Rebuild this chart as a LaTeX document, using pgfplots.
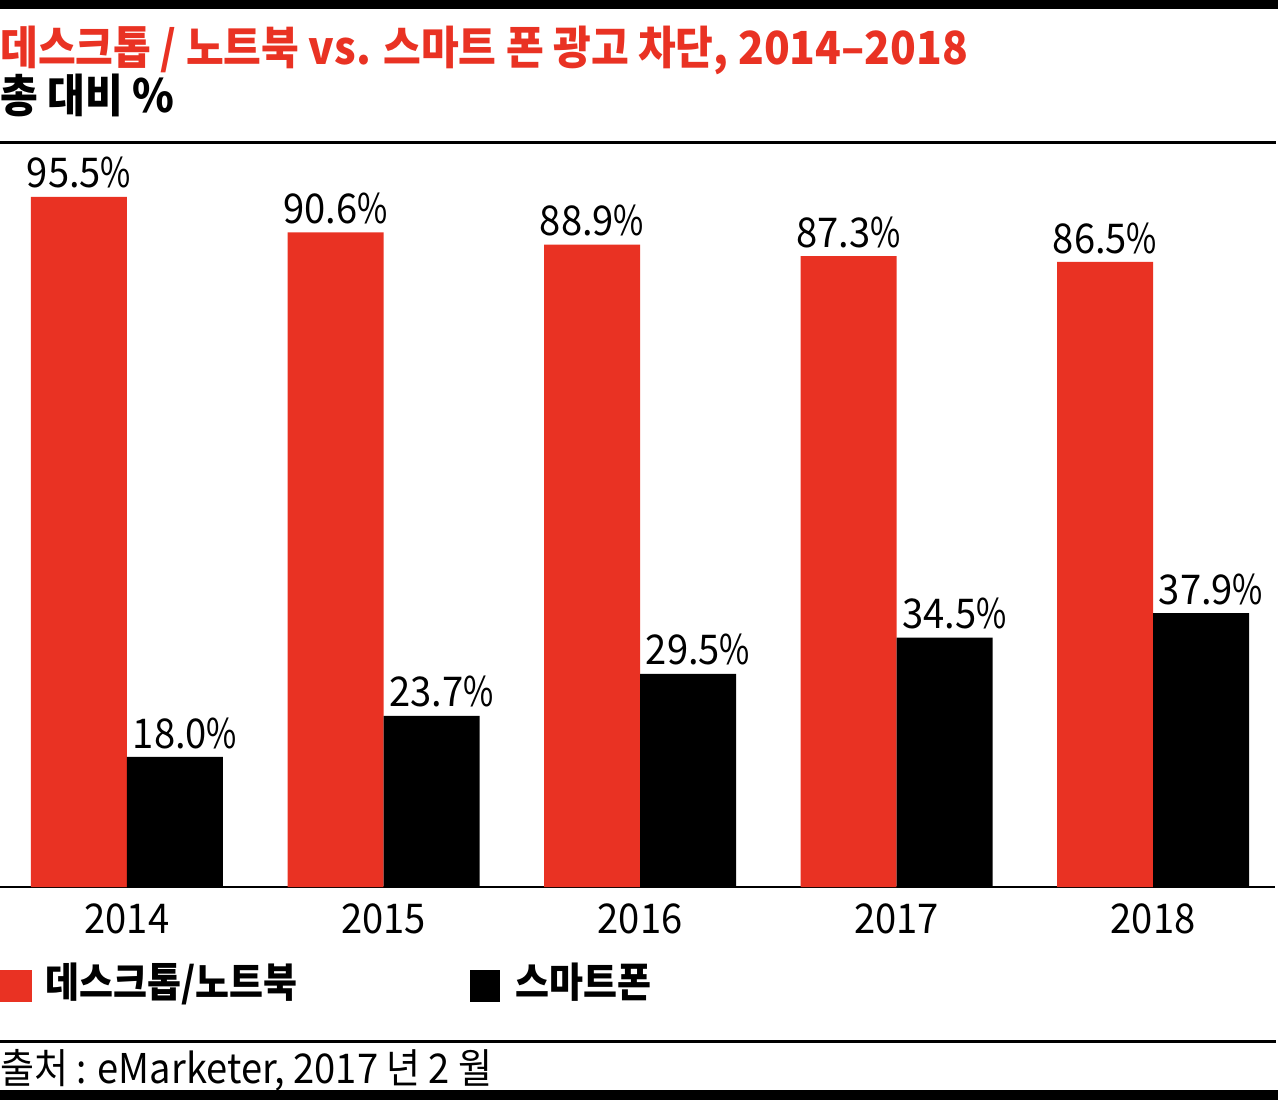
\documentclass[border=0pt]{standalone}
\usepackage{fontspec}
\usepackage{pgfplots}
\pgfplotsset{compat=1.18}
\setmainfont[FakeStretch=0.9]{Noto Sans CJK KR}
\newfontfamily\kr[FakeStretch=0.9]{Noto Sans CJK KR}
\newfontfamily\num[FakeStretch=0.93]{Noto Sans CJK KR}
\newfontfamily\pct[FakeStretch=0.8]{Noto Sans CJK KR}
\definecolor{myred}{HTML}{E93223}
\newcommand\fs{\fontsize{20.5}{24}\selectfont}
\newcommand\ft{\fontsize{22.8}{26}\selectfont}
\begin{document}
\begin{tikzpicture}
\path[use as bounding box] (0,0) rectangle (640pt,-551pt);
% top bar
\fill[black] (0,0) rectangle (639pt,-4.5pt);
% titles
\node[anchor=base west, inner sep=0, text=myred] at (0,-32.5pt)
  {\ft\bfseries\kr 데스크톱 / 노트북 {\num vs.} 스마트 폰 광고 차단{\num , 2014–2018}};
\node[anchor=base west, inner sep=0] at (0,-56.5pt)
  {\ft\bfseries\kr 총 대비 {\num\%}};
\draw[line width=1.5pt] (0,-71.5pt) -- (638pt,-71.5pt);
\begin{axis}[
  at={(0pt,-443.5pt)}, anchor=south west,
  scale only axis, width=637.5pt, height=372.5pt,
  xmin=-0.4951, xmax=4.4756, ymin=0, ymax=103.1,
  axis x line=bottom, hide y axis,
  x axis line style={-, line width=1pt},
  xtick={0,1,2,3,4}, xticklabels={2014,2015,2016,2017,2018},
  major tick length=0pt,
  xticklabel style={font=\fs\num, inner sep=0pt, yshift=-8pt},
  ybar=0pt, bar width=48pt,
  /pgf/number format/assume math mode=true,
  nodes near coords={\pgfmathprintnumber[fixed,fixed zerofill,precision=1]{\pgfplotspointmeta}{\pct\%}},
  every node near coord/.append style={font=\fs\num, inner sep=0pt, yshift=4pt, text=black},
  clip=false,
]
\addplot[fill=myred, draw=none] coordinates {(0,95.5)(1,90.6)(2,88.9)(3,87.3)(4,86.5)};
\addplot[fill=black, draw=none, every node near coord/.append style={xshift=5pt}] coordinates {(0,18.0)(1,23.7)(2,29.5)(3,34.5)(4,37.9)};
\end{axis}
% legend
\fill[myred] (0,-485pt) rectangle (16pt,-501pt);
\node[anchor=base west, inner sep=0] at (22.5pt,-498.5pt) {\fs\bfseries\kr 데스크톱/노트북};
\fill[black] (235pt,-485pt) rectangle (250pt,-501pt);
\node[anchor=base west, inner sep=0] at (257.5pt,-498.5pt) {\fs\bfseries\kr 스마트폰};
% bottom
\draw[line width=1.5pt] (0,-520.5pt) -- (638pt,-520.5pt);
\node[anchor=base west, inner sep=0] at (0,-541.5pt) {\fs\kr 출처 : {\num eMarketer, 2017} 년 {\num 2} 월};
\fill[black] (0,-545pt) rectangle (639pt,-550pt);
\end{tikzpicture}
\end{document}
